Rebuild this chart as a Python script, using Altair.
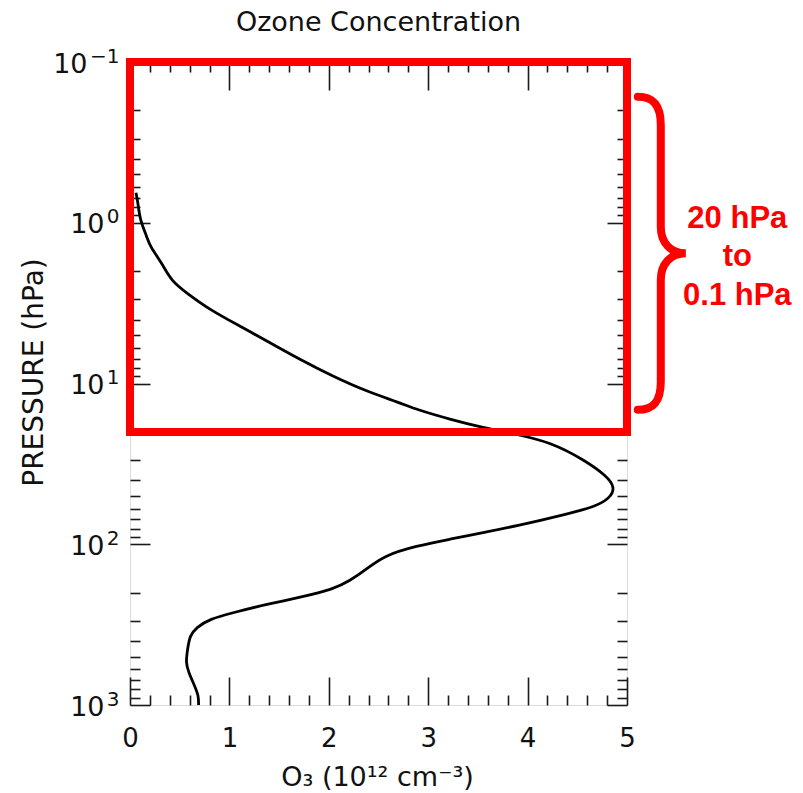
import altair as alt
import pandas as pd

FONT = "DejaVu Sans"
TITLE = "Ozone Concentration"

# Ozone number density (10^12 cm^-3) against pressure (hPa)
o3 = [0.06, 0.08, 0.10, 0.17, 0.20, 0.32, 0.42, 0.57, 0.80, 1.11, 1.38, 1.71,
      2.04, 2.38, 2.72, 2.88, 3.22, 3.55, 3.89, 4.23, 4.56, 4.80, 4.88, 4.83,
      4.70, 4.39, 3.89, 3.55, 3.22, 2.88, 2.55, 2.38, 2.21, 2.05, 1.71, 1.38,
      1.04, 0.80, 0.67, 0.60, 0.58, 0.56, 0.59, 0.65, 0.69, 0.69]
pressure = [0.65, 0.75, 0.96, 1.22, 1.40, 1.78, 2.32, 2.73, 3.47, 4.41, 5.46, 7.10,
            9.02, 11.2, 13.2, 14.5, 16.7, 18.8, 20.7, 23.2, 29.6, 37.7, 44.5, 51.3,
            57.8, 65.1, 77.0, 84.6, 93.0, 102.5, 118, 143, 169, 190, 214, 236,
            266, 292, 329, 371, 449, 543, 627, 759, 875, 1000]

# axis tick positions
x_major = [0, 1, 2, 3, 4, 5]
x_minor = [0.2, 0.4, 0.6, 0.8, 1.2, 1.4, 1.6, 1.8, 2.2, 2.4, 2.6, 2.8,
           3.2, 3.4, 3.6, 3.8, 4.2, 4.4, 4.6, 4.8]
y_major = [0.1, 1, 10, 100, 1000]
y_exponents = ["\u22121", "0", "1", "2", "3"]
y_minor = [m * 10.0 ** e for e in range(-1, 3) for m in range(2, 10)]

# highlighted layer: 20 hPa up to 0.1 hPa
box_o3 = [0, 5]
box_pressure = [0.1, 20]
note_lines = ["20 hPa", "to", "0.1 hPa"]
brace_pos = [5.34, 1.55]
note_pos = [6.11, 1.64]

profile = pd.DataFrame({"o3": o3, "p": pressure, "order": range(len(o3))})
box = pd.DataFrame({"x": [box_o3[0]], "x2": [box_o3[1]],
                    "p": [box_pressure[0]], "p2": [box_pressure[1]]})
brace = pd.DataFrame({"x": [brace_pos[0]], "p": [brace_pos[1]]})
note = pd.DataFrame({"x": [note_pos[0]], "p": [note_pos[1]],
                     "label": ["\n".join(note_lines)]})
heading = pd.DataFrame({"t": [TITLE]})

xs = alt.Scale(domain=[0, 5], nice=False, zero=False)
ys = alt.Scale(type="log", domain=[0.1, 1000], reverse=True, nice=False)

TICK = dict(domain=False, grid=False, tickColor="#1a1a1a", tickWidth=1.6)


def tick_axis(orient, values, size):
    return alt.Axis(orient=orient, values=values, offset=-size, tickSize=size,
                    labels=False, title=None, **TICK)


def carrier(x_axis, y_axis):
    # invisible copy of the profile that only carries a pair of axes
    return alt.Chart(profile).mark_line(opacity=0).encode(
        x=alt.X("o3:Q", scale=xs, axis=x_axis),
        y=alt.Y("p:Q", scale=ys, axis=y_axis),
        order="order:Q",
    )


x_main = alt.Axis(
    orient="bottom", values=x_major, offset=-28, tickSize=28, format="d",
    labelFont=FONT, labelFontSize=26, labelColor="#111", labelPadding=41,
    labelBaseline="alphabetic", labelFlush=False, labelOverlap=False,
    title="O\u2083 (10\u00b9\u00b2 cm\u207b\u00b3)", titleFont=FONT,
    titleFontSize=27, titleFontWeight="normal", titleColor="#111",
    titleX=247, titleY=108, titleAlign="center", titleBaseline="alphabetic",
    titleAngle=0, **TICK)

y_main = alt.Axis(
    orient="left", values=y_major, offset=-20, tickSize=20,
    labelExpr="'10'", labelFont=FONT, labelFontSize=27, labelColor="#111",
    labelAlign="right", labelBaseline="alphabetic", labelOffset=10,
    labelPadding={"condition": {"test": "datum.value < 0.5", "value": 43},
                  "value": 26},
    labelOverlap=False, labelBound=False, labelFlush=False,
    title="PRESSURE (hPa)", titleFont=FONT, titleFontSize=28,
    titleFontWeight="normal", titleColor="#111", titleX=-108, titleY=310,
    titleAngle=270, titleAlign="center", titleBaseline="alphabetic", **TICK)

exp_expr = " : ".join(
    f"datum.value == {v} ? '{e}'" for v, e in zip(y_major, y_exponents)) + " : ''"
y_exp = alt.Axis(
    orient="left", values=y_major, ticks=False, domain=False, grid=False,
    labelExpr=exp_expr, labelFont=FONT, labelFontSize=20, labelColor="#111",
    labelAlign="right", labelBaseline="alphabetic", labelPadding=11,
    labelOverlap=False, labelBound=False, labelFlush=False, title=None)

line = alt.Chart(profile).mark_line(
    color="black", strokeWidth=2.8, interpolate="basis").encode(
    x=alt.X("o3:Q", scale=xs, axis=x_main),
    y=alt.Y("p:Q", scale=ys, axis=y_main),
    order="order:Q",
)

minor_ticks = carrier(tick_axis("bottom", x_minor, 10), tick_axis("left", y_minor, 10))
top_right_major = carrier(tick_axis("top", x_major, 28), tick_axis("right", y_major, 20))
top_right_minor = carrier(tick_axis("top", x_minor, 10), tick_axis("right", y_minor, 10))
exponents = carrier(None, y_exp)

frame_box = alt.Chart(box).mark_rect(
    fillOpacity=0, stroke="#ff0000", strokeWidth=8).encode(
    x=alt.X("x:Q", scale=xs, axis=None), x2="x2:Q",
    y=alt.Y("p:Q", scale=ys, axis=None), y2="p2:Q",
)

BRACE_PATH = ("M -0.147 -1 C -0.05 -1 0 -0.95 0 -0.82 L 0 -0.17 "
              "C 0 -0.07 0.06 0 0.16 0 C 0.06 0 0 0.07 0 0.17 L 0 0.82 "
              "C 0 0.95 -0.05 1 -0.147 1")
brace_mark = alt.Chart(brace).mark_point(
    shape=BRACE_PATH, size=97969, filled=False, stroke="#ff0000",
    strokeWidth=8, opacity=1, strokeCap="round").encode(
    x=alt.X("x:Q", scale=xs, axis=None),
    y=alt.Y("p:Q", scale=ys, axis=None),
)

note_text = alt.Chart(note).mark_text(
    font="Liberation Sans", fontWeight="bold", fontSize=31, color="#ff0000",
    align="center", baseline="middle", lineBreak="\n", lineHeight=38.5,
    dy=-38.5).encode(
    x=alt.X("x:Q", scale=xs, axis=None),
    y=alt.Y("p:Q", scale=ys, axis=None),
    text="label:N",
)

# chart heading, centred over the plot area
heading_text = alt.Chart(heading).mark_text(
    font=FONT, fontSize=27, color="#111", align="center",
    baseline="alphabetic").encode(
    x=alt.value(248.5), y=alt.value(-31.5), text="t:N",
)

chart = alt.layer(
    minor_ticks, top_right_major, top_right_minor, exponents,
    line, frame_box, brace_mark, note_text, heading_text,
).resolve_axis(x="independent", y="independent").properties(
    width=497, height=643,
    autosize=alt.AutoSizeParams(type="none"),
    padding={"left": 130, "top": 62, "right": 176, "bottom": 88},
).configure_view(stroke="black", strokeWidth=2).configure(background="white")

chart.save("out.html", embed_options={"renderer": "svg", "actions": False})
